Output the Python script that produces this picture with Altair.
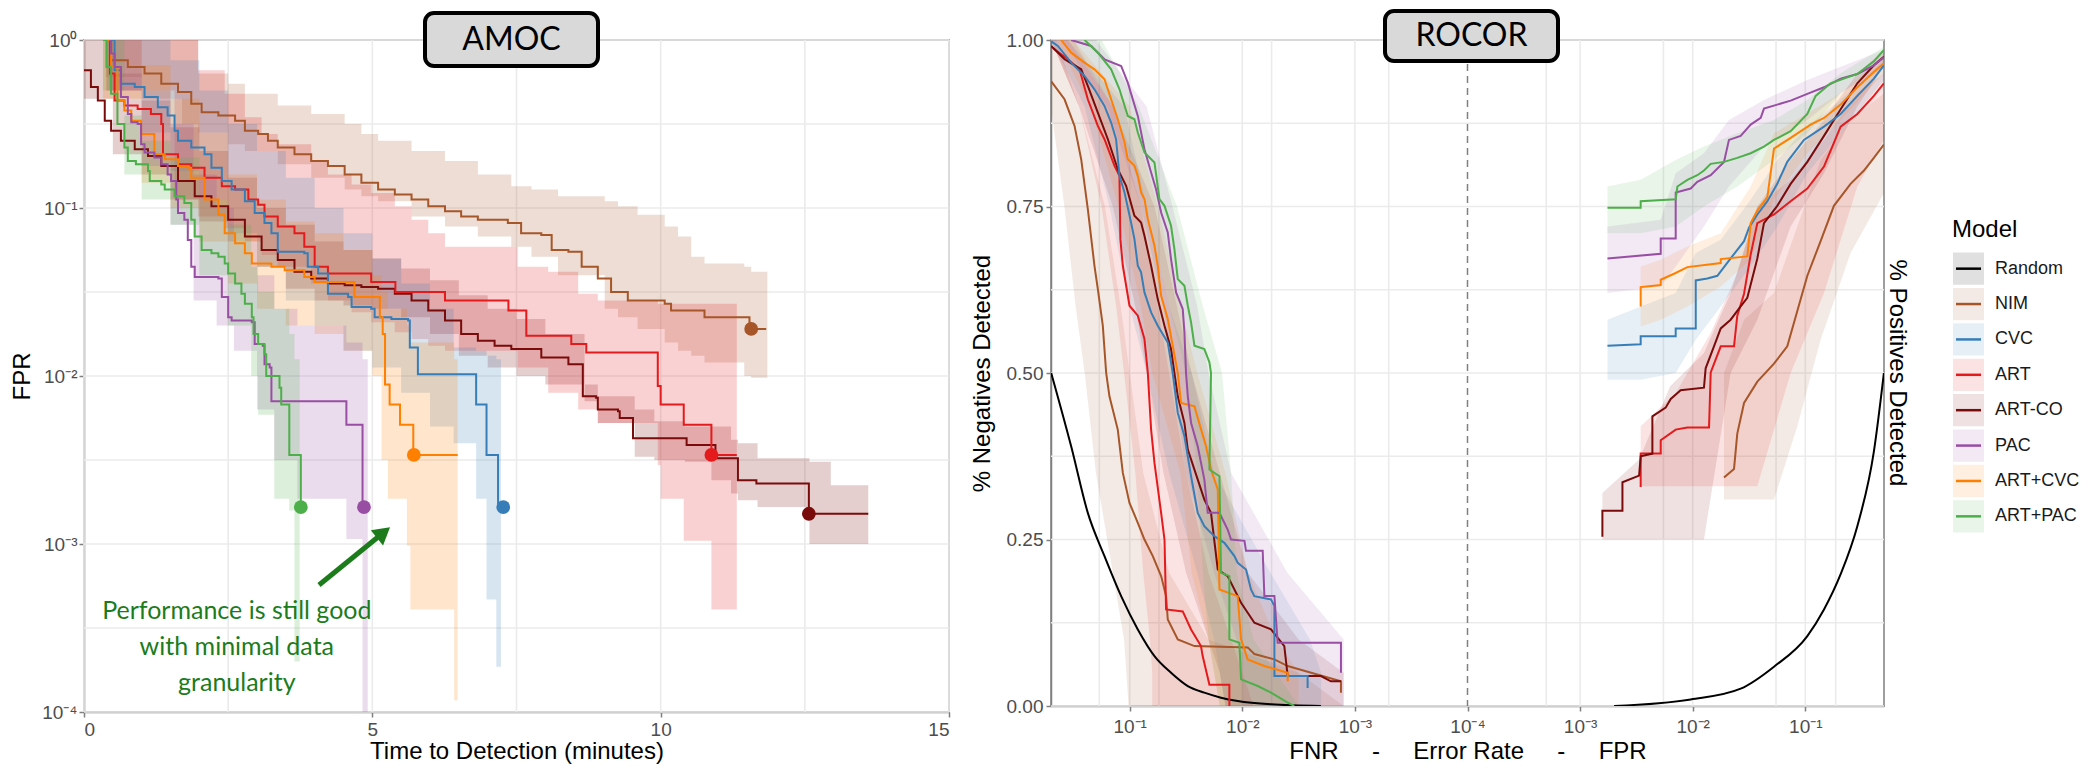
import altair as alt
import pandas as pd

MODELS = ["Random", "NIM", "CVC", "ART", "ART-CO", "PAC", "ART+CVC", "ART+PAC"]
COLORS = ["#000000", "#A65628", "#377EB8", "#E41A1C", "#7A0B0B", "#984EA3", "#FF7F00", "#4DAF4A"]
GREEN = "#1C7C1C"

# ------------------------------------------------------------------
# AMOC panel: time to detection (min) vs log10(FPR)  (step curves)
# ------------------------------------------------------------------
NIM_T = [0.38, 0.47, 0.76, 1.05, 1.34, 1.63, 1.86, 2.04, 2.33, 2.62, 2.79, 3.02, 3.19, 3.36, 3.65, 3.94, 4.23, 4.52, 4.81, 5.10,
         5.39, 5.68, 5.97, 6.26, 6.54, 6.83, 7.35, 7.58, 7.93, 8.11, 8.40, 8.63, 8.91, 9.14, 9.43, 10.07, 10.18, 10.76, 11.54, 11.83]
NIM_L = [0.0, -0.12, -0.16, -0.2, -0.26, -0.31, -0.38, -0.43, -0.45, -0.48, -0.54, -0.56, -0.6, -0.64, -0.68, -0.72, -0.75, -0.8, -0.85, -0.89,
         -0.92, -0.95, -0.99, -1.02, -1.05, -1.07, -1.09, -1.15, -1.16, -1.25, -1.26, -1.35, -1.42, -1.5, -1.55, -1.57, -1.61, -1.65, -1.72, -1.72]
NIM_BT = [0.38, 1.0, 1.7, 1.98, 2.5, 2.79, 3.36, 3.94, 4.52, 4.81, 5.1, 5.68, 6.26, 6.83, 7.41, 7.76, 8.22, 9.03, 9.26, 9.6,
          10.07, 10.3, 10.53, 10.76, 11.45, 11.57, 11.85]
NIM_HI = [0, 0, 0, -0.2, -0.26, -0.32, -0.39, -0.44, -0.5, -0.56, -0.6, -0.66, -0.72, -0.8, -0.87, -0.89, -0.93, -0.96, -0.99, -1.04,
          -1.11, -1.17, -1.29, -1.33, -1.35, -1.38, -1.39]
NIM_LO = [-0.22, -0.35, -0.5, -0.55, -0.62, -0.66, -0.74, -0.82, -0.89, -0.93, -0.96, -1.05, -1.11, -1.17, -1.23, -1.29, -1.4, -1.6, -1.65, -1.72,
          -1.8, -1.85, -1.88, -1.92, -2.0, -2.01, -2.01]

ARTCO_T = [0, 0.12, 0.24, 0.36, 0.47, 0.64, 0.88, 1.11, 1.34, 1.63, 1.92, 2.21, 2.5, 2.79, 3.08, 3.36, 3.65, 3.94, 4.23, 4.52,
           4.81, 5.1, 5.39, 5.68, 5.97, 6.26, 6.54, 6.83, 7.12, 7.41, 7.93, 8.4, 8.65, 8.88, 8.91, 9.26, 9.29, 9.52, 10.45, 10.95,
           11.34, 11.66, 12.57, 13.6]
ARTCO_L = [-0.18, -0.28, -0.36, -0.48, -0.54, -0.6, -0.65, -0.69, -0.75, -0.84, -0.93, -0.99, -1.07, -1.17, -1.25, -1.31, -1.38, -1.42, -1.45, -1.46,
           -1.47, -1.48, -1.51, -1.55, -1.61, -1.67, -1.75, -1.79, -1.82, -1.84, -1.89, -1.93, -2.12, -2.13, -2.2, -2.21, -2.25, -2.37, -2.41, -2.49,
           -2.62, -2.64, -2.82, -2.82]
ARTCO_BT = [0, 0.5, 1.0, 1.5, 2.0, 2.5, 3.0, 3.5, 4.0, 4.5, 5.0, 5.5, 6.0, 6.5, 7.0, 7.5, 8.0, 8.68, 8.91, 9.55,
            9.89, 10.42, 10.88, 11.22, 11.34, 11.68, 12.58, 12.95, 13.6]
ARTCO_HI = [0, -0.2, -0.36, -0.52, -0.66, -0.82, -1.0, -1.1, -1.2, -1.25, -1.3, -1.36, -1.43, -1.52, -1.6, -1.66, -1.75, -2.05, -2.12, -2.2,
            -2.27, -2.3, -2.3, -2.38, -2.4, -2.49, -2.51, -2.65, -2.65]
ARTCO_LO = [-0.35, -0.68, -0.8, -0.95, -1.08, -1.2, -1.35, -1.48, -1.55, -1.58, -1.6, -1.65, -1.75, -1.88, -1.95, -2.0, -2.05, -2.15, -2.28, -2.48,
            -2.5, -2.51, -2.62, -2.7, -2.74, -2.78, -3.0, -3.0, -3.0]

ART_T = [0.38, 0.45, 0.53, 0.70, 0.93, 1.16, 1.34, 1.37, 1.63, 1.86, 2.09, 2.39, 2.62, 2.85, 3.02, 3.13, 3.36, 3.65, 3.82, 4.0,
         4.23, 4.98, 5.4, 6.26, 7.36, 7.67, 8.45, 8.71, 9.95, 10.0, 10.4, 10.88, 11.32]
ART_L = [0.0, -0.2, -0.36, -0.39, -0.41, -0.44, -0.5, -0.68, -0.74, -0.76, -0.82, -0.87, -0.89, -0.95, -0.98, -1.05, -1.11, -1.15, -1.23, -1.35,
         -1.39, -1.44, -1.5, -1.55, -1.61, -1.76, -1.81, -1.86, -2.06, -2.17, -2.29, -2.47, -2.47]
ART_BT = [0.38, 1.57, 1.98, 2.44, 2.79, 3.08, 3.36, 3.94, 4.23, 4.64, 4.98, 5.39, 5.68, 5.97, 6.26, 7.52, 8.05, 8.57, 8.91, 9.95,
          10.0, 10.4, 10.88, 11.32]
ART_HI = [0, 0, -0.18, -0.32, -0.46, -0.56, -0.62, -0.72, -0.8, -0.86, -0.91, -0.99, -1.07, -1.15, -1.23, -1.35, -1.38, -1.51, -1.55, -1.57,
          -1.57, -1.57, -1.57, -1.65]
ART_LO = [-0.3, -0.95, -1.05, -1.12, -1.2, -1.28, -1.35, -1.45, -1.55, -1.62, -1.68, -1.74, -1.78, -1.82, -1.85, -1.95, -2.1, -2.2, -2.28, -2.53,
          -2.73, -2.98, -3.39, -3.39]

CVC_T = [0.4, 0.53, 0.64, 0.88, 1.05, 1.28, 1.45, 1.57, 1.63, 1.86, 2.09, 2.21, 2.39, 2.56, 2.79, 2.96, 3.13, 3.25, 3.36, 3.82,
         3.88, 4.06, 4.23, 4.58, 4.64, 4.98, 5.04, 5.33, 5.62, 5.65, 5.79, 6.8, 6.98, 7.18, 7.27]
CVC_L = [0.0, -0.18, -0.26, -0.28, -0.34, -0.4, -0.45, -0.54, -0.6, -0.64, -0.68, -0.76, -0.84, -0.89, -0.96, -1.03, -1.09, -1.15, -1.26, -1.27,
         -1.35, -1.39, -1.51, -1.53, -1.59, -1.6, -1.65, -1.66, -1.67, -1.83, -1.99, -2.17, -2.47, -2.78, -2.78]
CVC_BT = [0.4, 1.0, 1.5, 2.0, 2.5, 3.0, 3.5, 4.0, 4.5, 5.0, 5.5, 6.0, 6.41, 6.8, 6.98, 7.15, 7.23]
CVC_HI = [0, 0, -0.12, -0.3, -0.5, -0.66, -0.82, -1.0, -1.15, -1.3, -1.45, -1.6, -1.83, -1.85, -1.88, -1.9, -1.9]
CVC_LO = [-0.3, -0.55, -0.78, -0.95, -1.15, -1.35, -1.55, -1.7, -1.85, -1.95, -2.1, -2.3, -2.4, -2.73, -3.33, -3.73, -4.0]

AC_T = [0.33, 0.47, 0.58, 0.70, 0.82, 0.99, 1.22, 1.4, 1.63, 1.8, 1.86, 2.09, 2.33, 2.44, 2.62, 2.79, 2.91, 3.25, 3.48, 3.82,
        4.0, 4.69, 5.13, 5.18, 5.22, 5.3, 5.48, 5.71, 6.48]
AC_L = [0.0, -0.16, -0.36, -0.42, -0.48, -0.56, -0.68, -0.71, -0.75, -0.76, -0.82, -0.95, -1.04, -1.15, -1.21, -1.27, -1.33, -1.35, -1.37, -1.41,
        -1.44, -1.53, -1.65, -1.75, -2.05, -2.17, -2.29, -2.47, -2.47]
AC_BT = [0.33, 1.0, 1.5, 2.0, 2.5, 3.0, 3.5, 4.0, 4.5, 5.0, 5.16, 5.27, 5.6, 5.66, 6.42, 6.48]
AC_HI = [0, -0.15, -0.35, -0.55, -0.8, -0.95, -1.08, -1.15, -1.25, -1.4, -1.5, -1.6, -1.7, -1.8, -1.9, -1.9]
AC_LO = [-0.35, -0.85, -1.0, -1.2, -1.45, -1.6, -1.7, -1.75, -1.85, -2.0, -2.5, -2.73, -3.01, -3.39, -3.93, -3.93]

PAC_T = [0.44, 0.47, 0.53, 0.64, 0.76, 0.82, 0.93, 0.99, 1.05, 1.22, 1.34, 1.45, 1.51, 1.6, 1.63, 1.74, 1.8, 1.86, 1.92, 2.33,
         2.39, 2.5, 2.56, 2.91, 2.96, 3.1, 3.13, 3.22, 3.25, 4.55, 4.83, 4.86]
PAC_L = [0.0, -0.08, -0.16, -0.34, -0.44, -0.49, -0.5, -0.62, -0.67, -0.7, -0.74, -0.8, -0.84, -0.95, -1.03, -1.07, -1.19, -1.35, -1.41, -1.42,
         -1.53, -1.65, -1.67, -1.68, -1.81, -1.82, -1.93, -1.95, -2.15, -2.29, -2.78, -2.78]
PAC_BT = [0.44, 1.0, 1.5, 1.9, 2.3, 2.6, 3.0, 3.3, 3.7, 4.55, 4.83, 4.92]
PAC_HI = [0, -0.3, -0.5, -0.8, -1.0, -1.2, -1.4, -1.6, -1.7, -1.8, -1.9, -1.9]
PAC_LO = [-0.3, -0.75, -1.1, -1.55, -1.7, -1.85, -2.2, -2.5, -2.73, -2.97, -4.0, -4.0]

AP_T = [0.33, 0.39, 0.47, 0.58, 0.70, 0.76, 0.9, 1.11, 1.14, 1.34, 1.4, 1.57, 1.74, 1.86, 1.92, 2.04, 2.21, 2.33, 2.44, 2.5,
        2.62, 2.73, 2.79, 2.91, 2.94, 3.02, 3.13, 3.16, 3.39, 3.42, 3.56, 3.76]
AP_L = [0.0, -0.16, -0.32, -0.5, -0.64, -0.72, -0.74, -0.78, -0.84, -0.86, -0.89, -0.93, -0.97, -1.07, -1.17, -1.25, -1.27, -1.29, -1.33, -1.39,
        -1.45, -1.51, -1.57, -1.65, -1.75, -1.81, -1.87, -2.0, -2.07, -2.17, -2.47, -2.78]
AP_BT = [0.33, 0.7, 1.0, 1.5, 2.0, 2.5, 2.9, 3.02, 3.3, 3.56, 3.65, 3.74]
AP_HI = [0, -0.45, -0.6, -0.7, -0.95, -1.1, -1.35, -1.5, -1.6, -1.75, -1.9, -1.9]
AP_LO = [-0.3, -0.8, -0.95, -1.1, -1.4, -1.7, -2.0, -2.23, -2.73, -2.8, -3.7, -3.7]

DOT_MODEL = ["NIM", "CVC", "ART", "ART-CO", "PAC", "ART+CVC", "ART+PAC"]
DOT_T = [11.57, 7.27, 10.88, 12.57, 4.855, 5.72, 3.76]
DOT_L = [-1.72, -2.78, -2.47, -2.82, -2.78, -2.47, -2.78]

ANNOT_TEXT = ["Performance is still good", "with minimal data", "granularity"]
ANNOT_T = [2.65, 2.65, 2.65]
ANNOT_L = [-3.40, -3.615, -3.83]
ARROW_T = [4.075]
ARROW_L = [-3.244]
ARROW_T2 = [5.11]
ARROW_L2 = [-2.955]
HEAD_T = [5.193]
HEAD_L = [-2.932]

AMOC_X_GRID = [0, 2.5, 5, 7.5, 10, 12.5, 15]
AMOC_Y_GRID = [-4, -3.5, -3, -2.5, -2, -1.5, -1, -0.5, 0]

# ------------------------------------------------------------------
# ROCOR panel: left half = log10(FNR) vs % negatives, right half = log10(FPR) vs % positives
# ------------------------------------------------------------------
NIM_FNR_LG = [-0.303, -0.421, -0.51, -0.569, -0.628, -0.687, -0.717, -0.761, -0.791, -0.82, -0.894, -0.939, -0.998, -1.072, -1.131, -1.205,
              -1.279, -1.323, -1.338, -1.427, -1.575, -2.048, -2.107, -2.285, -2.403, -2.876, -2.876]
NIM_FNR_Y = [0.938, 0.911, 0.871, 0.821, 0.746, 0.661, 0.626, 0.571, 0.5, 0.465, 0.415, 0.35, 0.305, 0.275, 0.25, 0.225,
             0.195, 0.165, 0.13, 0.1, 0.09, 0.088, 0.078, 0.07, 0.06, 0.037, 0.02]
ART_FNR_LG = [-0.318, -0.451, -0.554, -0.628, -0.717, -0.776, -0.865, -0.909, -0.917, -0.939, -0.998, -1.072, -1.131, -1.161, -1.19, -1.22,
              -1.279, -1.309, -1.323, -1.471, -1.545, -1.633, -1.648, -1.708, -1.885, -1.885]
ART_FNR_Y = [0.988, 0.971, 0.956, 0.911, 0.871, 0.851, 0.811, 0.796, 0.701, 0.661, 0.601, 0.586, 0.551, 0.5, 0.415, 0.365,
             0.29, 0.25, 0.145, 0.142, 0.115, 0.09, 0.075, 0.032, 0.032, 0.0]
ARTCO_FNR_LG = [-0.303, -0.421, -0.569, -0.628, -0.717, -0.806, -0.894, -0.968, -1.042, -1.101, -1.131, -1.19, -1.249, -1.309, -1.367, -1.397,
                -1.427, -1.486, -1.516, -1.575, -1.663, -1.722, -1.782, -1.87, -1.989, -2.107, -2.255, -2.373, -2.403, -2.698, -2.787, -2.876]
ARTCO_FNR_Y = [0.991, 0.971, 0.956, 0.931, 0.891, 0.851, 0.806, 0.781, 0.736, 0.726, 0.706, 0.661, 0.611, 0.571, 0.536, 0.5,
               0.465, 0.425, 0.385, 0.355, 0.31, 0.29, 0.205, 0.195, 0.155, 0.125, 0.115, 0.09, 0.045, 0.045, 0.037, 0.037]
CVC_FNR_LG = [-0.303, -0.362, -0.48, -0.599, -0.687, -0.776, -0.835, -0.879, -0.909, -0.954, -1.012, -1.042, -1.072, -1.101, -1.131, -1.19,
              -1.249, -1.338, -1.382, -1.427, -1.486, -1.545, -1.604, -1.663, -1.752, -1.841, -1.93, -1.959, -2.033, -2.077, -2.107, -2.255,
              -2.285, -2.285, -2.58, -2.58]
CVC_FNR_Y = [0.998, 0.991, 0.966, 0.946, 0.926, 0.901, 0.876, 0.851, 0.796, 0.771, 0.726, 0.701, 0.661, 0.651, 0.621, 0.591,
             0.571, 0.546, 0.5, 0.44, 0.405, 0.345, 0.29, 0.27, 0.255, 0.245, 0.225, 0.215, 0.205, 0.175, 0.165, 0.16,
             0.15, 0.045, 0.045, 0.027]
AC_FNR_LG = [-0.391, -0.48, -0.599, -0.687, -0.776, -0.835, -0.894, -0.954, -0.983, -1.042, -1.072, -1.101, -1.131, -1.161, -1.22, -1.249,
             -1.279, -1.338, -1.382, -1.427, -1.456, -1.575, -1.634, -1.678, -1.722, -1.782, -1.797, -1.959, -1.989, -2.048, -2.196, -2.403, -2.403]
AC_FNR_Y = [1.0, 0.981, 0.966, 0.956, 0.941, 0.911, 0.881, 0.846, 0.821, 0.811, 0.796, 0.771, 0.761, 0.731, 0.691, 0.661,
            0.616, 0.581, 0.541, 0.5, 0.455, 0.45, 0.415, 0.39, 0.355, 0.325, 0.175, 0.165, 0.1, 0.07, 0.06, 0.05, 0.037]
PAC_FNR_LG = [-0.48, -0.658, -0.776, -0.924, -0.983, -1.027, -1.072, -1.131, -1.19, -1.234, -1.279, -1.338, -1.367, -1.412, -1.471, -1.486,
              -1.5, -1.516, -1.545, -1.604, -1.663, -1.693, -1.797, -1.87, -1.9, -2.019, -2.033, -2.181, -2.196, -2.285, -2.314, -2.876, -2.876]
PAC_FNR_Y = [1.0, 0.991, 0.971, 0.961, 0.936, 0.911, 0.886, 0.836, 0.801, 0.776, 0.741, 0.711, 0.671, 0.621, 0.596, 0.561,
             0.5, 0.465, 0.425, 0.39, 0.34, 0.29, 0.29, 0.265, 0.25, 0.248, 0.233, 0.233, 0.165, 0.165, 0.095, 0.095, 0.05]
AP_FNR_LG = [-0.599, -0.717, -0.835, -0.909, -0.983, -1.042, -1.072, -1.131, -1.22, -1.264, -1.309, -1.367, -1.397, -1.427, -1.486, -1.516,
             -1.545, -1.575, -1.663, -1.708, -1.722, -1.708, -1.797, -1.811, -1.885, -1.885, -1.974, -1.989, -2.137, -2.255, -2.403, -2.462]
AP_FNR_Y = [1.0, 0.981, 0.956, 0.926, 0.886, 0.881, 0.861, 0.831, 0.816, 0.761, 0.751, 0.721, 0.686, 0.641, 0.631, 0.601,
            0.576, 0.541, 0.536, 0.516, 0.5, 0.355, 0.345, 0.2, 0.195, 0.1, 0.095, 0.04, 0.03, 0.02, 0.005, 0.0]
RND_FNR_LG = [-0.303, -0.48, -0.628, -0.776, -0.924, -1.072, -1.22, -1.367, -1.516, -1.663, -1.811, -1.959, -2.255, -2.698]
RND_FNR_Y = [0.5, 0.39, 0.29, 0.225, 0.165, 0.115, 0.075, 0.05, 0.03, 0.02, 0.0125, 0.0075, 0.0025, 0.0]

AP_FPR_LG = [-2.757, -2.462, -2.462, -2.151, -2.136, -2.047, -1.959, -1.9, -1.84, -1.722, -1.604, -1.485, -1.367, -1.278, -1.13, -0.982,
             -0.908, -0.775, -0.657, -0.538, -0.391, -0.302]
AP_FPR_Y = [0.748, 0.748, 0.758, 0.761, 0.78, 0.79, 0.797, 0.804, 0.814, 0.817, 0.823, 0.83, 0.84, 0.85, 0.863, 0.889,
            0.916, 0.935, 0.942, 0.949, 0.968, 0.985]
PAC_FPR_LG = [-2.757, -2.284, -2.284, -2.151, -2.151, -2.018, -1.959, -1.84, -1.722, -1.678, -1.574, -1.485, -1.396, -1.367, -1.249, -1.13,
              -0.982, -0.834, -0.686, -0.538, -0.391, -0.302]
PAC_FPR_Y = [0.672, 0.679, 0.702, 0.702, 0.771, 0.777, 0.787, 0.797, 0.817, 0.85, 0.856, 0.873, 0.883, 0.897, 0.903, 0.909,
             0.919, 0.929, 0.942, 0.949, 0.962, 0.974]
AC_FPR_LG = [-2.462, -2.462, -2.284, -2.284, -2.166, -2.047, -1.751, -1.751, -1.515, -1.485, -1.426, -1.337, -1.278, -1.13, -0.953, -0.834,
             -0.686, -0.538, -0.391, -0.302]
AC_FPR_Y = [0.6, 0.629, 0.632, 0.64, 0.649, 0.659, 0.665, 0.671, 0.675, 0.725, 0.744, 0.764, 0.837, 0.853, 0.873, 0.883,
            0.903, 0.929, 0.952, 0.965]
CVC_FPR_LG = [-2.757, -2.462, -2.462, -2.151, -2.151, -1.973, -1.973, -1.87, -1.781, -1.663, -1.604, -1.544, -1.5, -1.426, -1.337, -1.249,
              -1.16, -1.012, -0.834, -0.686, -0.538, -0.391, -0.302]
CVC_FPR_Y = [0.541, 0.543, 0.555, 0.555, 0.567, 0.567, 0.639, 0.642, 0.646, 0.672, 0.685, 0.698, 0.718, 0.738, 0.758, 0.784,
             0.817, 0.85, 0.87, 0.889, 0.916, 0.942, 0.962]
ARTCO_FPR_LG = [-2.802, -2.802, -2.624, -2.624, -2.476, -2.462, -2.358, -2.358, -2.24, -2.195, -2.107, -1.9, -1.885, -1.811, -1.751, -1.663,
                -1.574, -1.515, -1.426, -1.367, -1.249, -1.13, -0.982, -0.834, -0.686, -0.538, -0.391, -0.302]
ARTCO_FPR_Y = [0.254, 0.293, 0.293, 0.336, 0.346, 0.375, 0.379, 0.435, 0.448, 0.461, 0.474, 0.478, 0.507, 0.54, 0.567, 0.58,
               0.6, 0.613, 0.672, 0.725, 0.751, 0.784, 0.817, 0.856, 0.896, 0.935, 0.962, 0.975]
ART_FPR_LG = [-2.462, -2.462, -2.284, -2.284, -2.151, -2.047, -1.855, -1.84, -1.751, -1.633, -1.604, -1.544, -1.485, -1.426, -1.278, -1.13,
              -0.982, -0.834, -0.686, -0.538, -0.391, -0.302]
ART_FPR_Y = [0.329, 0.379, 0.379, 0.399, 0.415, 0.418, 0.418, 0.501, 0.54, 0.54, 0.586, 0.619, 0.678, 0.725, 0.738, 0.758,
             0.777, 0.81, 0.87, 0.889, 0.916, 0.935]
NIM_FPR_LG = [-1.722, -1.633, -1.604, -1.544, -1.426, -1.278, -1.16, -1.071, -0.982, -0.864, -0.746, -0.598, -0.479, -0.391, -0.302]
NIM_FPR_Y = [0.343, 0.356, 0.409, 0.455, 0.487, 0.514, 0.54, 0.593, 0.646, 0.698, 0.751, 0.784, 0.804, 0.823, 0.843]
RND_FPR_LG = [-2.698, -2.018, -1.574, -1.278, -0.982, -0.834, -0.686, -0.538, -0.391, -0.302]
RND_FPR_Y = [0.0, 0.0099, 0.026, 0.059, 0.105, 0.145, 0.198, 0.27, 0.382, 0.5]

# confidence bands, FNR side (horizontal bands: left / right edge in log10 FNR at each level)
BAND_Y = [1.0, 0.9, 0.75, 0.6, 0.5, 0.35, 0.2, 0.1, 0.05, 0.0]
NIM_FNR_BL = [-0.3, -0.3, -0.42, -0.52, -0.6, -0.7, -0.85, -0.95, -0.97, -0.99]
NIM_FNR_BR = [-0.35, -0.55, -0.78, -0.92, -1.0, -1.12, -1.35, -1.7, -2.5, -2.9]
ART_FNR_BL = [-0.3, -0.55, -0.75, -0.88, -0.95, -1.05, -1.12, -1.18, -1.2, -1.2]
ART_FNR_BR = [-0.5, -0.85, -1.1, -1.25, -1.35, -1.5, -1.7, -1.9, -2.0, -2.1]
ARTCO_FNR_BL = [-0.3, -0.55, -0.85, -1.05, -1.15, -1.3, -1.5, -1.7, -1.8, -1.85]
ARTCO_FNR_BR = [-0.45, -0.85, -1.22, -1.42, -1.55, -1.8, -2.05, -2.5, -2.9, -2.9]
CVC_FNR_BL = [-0.3, -0.6, -0.82, -1.0, -1.15, -1.35, -1.6, -1.75, -1.8, -1.85]
CVC_FNR_BR = [-0.45, -0.95, -1.15, -1.35, -1.55, -1.75, -2.25, -2.6, -2.7, -2.7]
AC_FNR_BL = [-0.35, -0.65, -0.9, -1.1, -1.2, -1.45, -1.55, -1.7, -1.75, -1.8]
AC_FNR_BR = [-0.5, -1.0, -1.25, -1.45, -1.6, -1.85, -2.05, -2.3, -2.5, -2.5]
PAC_FNR_BL = [-0.4, -0.8, -1.1, -1.3, -1.38, -1.5, -1.75, -1.95, -2.0, -2.0]
PAC_FNR_BR = [-0.7, -1.15, -1.38, -1.6, -1.7, -1.9, -2.4, -2.9, -2.9, -2.9]
AP_FNR_BL = [-0.45, -0.85, -1.15, -1.35, -1.5, -1.6, -1.65, -1.7, -1.75, -1.8]
AP_FNR_BR = [-0.75, -1.08, -1.42, -1.65, -1.82, -1.9, -1.95, -2.1, -2.3, -2.5]

# confidence bands, FPR side (vertical bands)
AP_FPR_BX = [-2.757, -2.462, -2.151, -1.9, -1.604, -1.278, -0.982, -0.686, -0.302]
AP_FPR_BLO = [0.71, 0.71, 0.72, 0.75, 0.78, 0.82, 0.86, 0.92, 0.97]
AP_FPR_BHI = [0.78, 0.79, 0.82, 0.84, 0.86, 0.88, 0.91, 0.95, 0.99]
PAC_FPR_BX = [-2.757, -2.284, -2.151, -1.9, -1.678, -1.367, -0.982, -0.686, -0.302]
PAC_FPR_BLO = [0.62, 0.63, 0.66, 0.72, 0.78, 0.84, 0.88, 0.92, 0.96]
PAC_FPR_BHI = [0.72, 0.73, 0.8, 0.83, 0.88, 0.91, 0.94, 0.96, 0.985]
AC_FPR_BX = [-2.462, -2.284, -2.047, -1.751, -1.485, -1.278, -0.982, -0.686, -0.302]
AC_FPR_BLO = [0.57, 0.58, 0.6, 0.63, 0.67, 0.76, 0.83, 0.88, 0.95]
AC_FPR_BHI = [0.66, 0.67, 0.69, 0.71, 0.78, 0.86, 0.89, 0.92, 0.975]
CVC_FPR_BX = [-2.757, -2.462, -2.151, -1.973, -1.751, -1.485, -1.249, -0.982, -0.686, -0.302]
CVC_FPR_BLO = [0.49, 0.49, 0.5, 0.55, 0.6, 0.66, 0.72, 0.8, 0.86, 0.94]
CVC_FPR_BHI = [0.58, 0.6, 0.62, 0.68, 0.7, 0.76, 0.82, 0.87, 0.91, 0.97]
ARTCO_FPR_BX = [-2.802, -2.476, -2.2, -1.9, -1.663, -1.426, -1.13, -0.834, -0.538, -0.302]
ARTCO_FPR_BLO = [0.25, 0.25, 0.25, 0.25, 0.5, 0.58, 0.72, 0.8, 0.9, 0.96]
ARTCO_FPR_BHI = [0.32, 0.37, 0.48, 0.53, 0.62, 0.75, 0.82, 0.88, 0.95, 0.985]
ART_FPR_BX = [-2.462, -2.151, -1.84, -1.604, -1.426, -1.13, -0.834, -0.538, -0.302]
ART_FPR_BLO = [0.33, 0.33, 0.33, 0.33, 0.33, 0.5, 0.62, 0.78, 0.85]
ART_FPR_BHI = [0.42, 0.47, 0.56, 0.65, 0.75, 0.79, 0.85, 0.92, 0.95]
NIM_FPR_BX = [-1.722, -1.544, -1.278, -1.071, -0.864, -0.598, -0.302]
NIM_FPR_BLO = [0.31, 0.31, 0.31, 0.42, 0.55, 0.68, 0.77]
NIM_FPR_BHI = [0.5, 0.58, 0.62, 0.72, 0.82, 0.88, 0.92]

ROC_X_GRID = [-3.27, -3, -2.74, -2, -1.74, -1, -0.7, 0.7, 1, 1.74, 2, 2.74, 3, 3.27]
ROC_Y_GRID = [0, 0.125, 0.25, 0.375, 0.5, 0.625, 0.75, 0.875, 1]

# ------------------------------------------------------------------
# tables
# ------------------------------------------------------------------
def steps(model, t, lg):
    return pd.DataFrame({"model": model, "t": t, "lg": lg, "i": list(range(len(t)))})


def bandA(model, t, lo, hi):
    return pd.DataFrame({"model": model, "t": t, "lo": lo, "hi": hi})


amoc_lines = pd.concat([
    steps("NIM", NIM_T, NIM_L), steps("ART-CO", ARTCO_T, ARTCO_L), steps("ART", ART_T, ART_L),
    steps("CVC", CVC_T, CVC_L), steps("ART+CVC", AC_T, AC_L), steps("PAC", PAC_T, PAC_L),
    steps("ART+PAC", AP_T, AP_L)], ignore_index=True)
amoc_bands = pd.concat([
    bandA("NIM", NIM_BT, NIM_LO, NIM_HI), bandA("ART-CO", ARTCO_BT, ARTCO_LO, ARTCO_HI),
    bandA("ART", ART_BT, ART_LO, ART_HI), bandA("CVC", CVC_BT, CVC_LO, CVC_HI),
    bandA("ART+CVC", AC_BT, AC_LO, AC_HI), bandA("PAC", PAC_BT, PAC_LO, PAC_HI),
    bandA("ART+PAC", AP_BT, AP_LO, AP_HI)], ignore_index=True)
amoc_dots = pd.DataFrame({"model": DOT_MODEL, "t": DOT_T, "lg": DOT_L})


def fnr_line(model, lg, y):
    return pd.DataFrame({"model": model, "grp": model + "-fnr", "u": [-(v + 4) for v in lg], "y": y,
                         "i": list(range(len(lg)))})


def fpr_line(model, lg, y):
    return pd.DataFrame({"model": model, "grp": model + "-fpr", "u": [v + 4 for v in lg], "y": y,
                         "i": list(range(len(lg)))})


def fnr_band(model, bl, br):
    return pd.DataFrame({"model": model, "y": BAND_Y, "uL": [-(v + 4) for v in bl], "uR": [-(v + 4) for v in br]})


def fpr_band(model, bx, lo, hi):
    return pd.DataFrame({"model": model, "u": [v + 4 for v in bx], "lo": lo, "hi": hi})


roc_lines = pd.concat([
    fnr_line("NIM", NIM_FNR_LG, NIM_FNR_Y), fnr_line("ART", ART_FNR_LG, ART_FNR_Y),
    fnr_line("ART-CO", ARTCO_FNR_LG, ARTCO_FNR_Y), fnr_line("CVC", CVC_FNR_LG, CVC_FNR_Y),
    fnr_line("ART+CVC", AC_FNR_LG, AC_FNR_Y), fnr_line("PAC", PAC_FNR_LG, PAC_FNR_Y),
    fnr_line("ART+PAC", AP_FNR_LG, AP_FNR_Y),
    fpr_line("NIM", NIM_FPR_LG, NIM_FPR_Y), fpr_line("ART", ART_FPR_LG, ART_FPR_Y),
    fpr_line("ART-CO", ARTCO_FPR_LG, ARTCO_FPR_Y), fpr_line("CVC", CVC_FPR_LG, CVC_FPR_Y),
    fpr_line("ART+CVC", AC_FPR_LG, AC_FPR_Y), fpr_line("PAC", PAC_FPR_LG, PAC_FPR_Y),
    fpr_line("ART+PAC", AP_FPR_LG, AP_FPR_Y)], ignore_index=True)
roc_random = pd.concat([fnr_line("Random", RND_FNR_LG, RND_FNR_Y), fpr_line("Random", RND_FPR_LG, RND_FPR_Y)],
                       ignore_index=True)
roc_bands_l = pd.concat([
    fnr_band("NIM", NIM_FNR_BL, NIM_FNR_BR), fnr_band("ART", ART_FNR_BL, ART_FNR_BR),
    fnr_band("ART-CO", ARTCO_FNR_BL, ARTCO_FNR_BR), fnr_band("CVC", CVC_FNR_BL, CVC_FNR_BR),
    fnr_band("ART+CVC", AC_FNR_BL, AC_FNR_BR), fnr_band("PAC", PAC_FNR_BL, PAC_FNR_BR),
    fnr_band("ART+PAC", AP_FNR_BL, AP_FNR_BR)], ignore_index=True)
roc_bands_r = pd.concat([
    fpr_band("NIM", NIM_FPR_BX, NIM_FPR_BLO, NIM_FPR_BHI), fpr_band("ART", ART_FPR_BX, ART_FPR_BLO, ART_FPR_BHI),
    fpr_band("ART-CO", ARTCO_FPR_BX, ARTCO_FPR_BLO, ARTCO_FPR_BHI), fpr_band("CVC", CVC_FPR_BX, CVC_FPR_BLO, CVC_FPR_BHI),
    fpr_band("ART+CVC", AC_FPR_BX, AC_FPR_BLO, AC_FPR_BHI), fpr_band("PAC", PAC_FPR_BX, PAC_FPR_BLO, PAC_FPR_BHI),
    fpr_band("ART+PAC", AP_FPR_BX, AP_FPR_BLO, AP_FPR_BHI)], ignore_index=True)

# ------------------------------------------------------------------
# encodings
# ------------------------------------------------------------------
W_L, W_R, W_LEG = 865, 833, 95
H_L, H_R = 672, 666
FONT = "Liberation Sans"
color = alt.Color("model:N", scale=alt.Scale(domain=MODELS, range=COLORS), legend=None)

LBL_A = ("datum.value == 0 ? '10⁰' : datum.value == -1 ? '10⁻¹' : datum.value == -2 ? '10⁻²' : "
         "datum.value == -3 ? '10⁻³' : '10⁻⁴'")
LBL_R = ("datum.value == 0 ? '10⁻⁴' : abs(datum.value) == 1 ? '10⁻³' : abs(datum.value) == 2 ? '10⁻²' : '10⁻¹'")
NB = "\u00a0" * 5
XTITLE_R = "FNR" + NB + "-" + NB + "Error Rate" + NB + "-" + NB + "FPR"

axA_x = alt.Axis(values=[0, 5, 10, 15], title="Time to Detection (minutes)", grid=False, labelPadding=3, titlePadding=0)
axA_y = alt.Axis(values=[-4, -3, -2, -1, 0], labelExpr=LBL_A, title="FPR", grid=False, labelPadding=2, titlePadding=7)
scA_x = alt.Scale(domain=[0, 15], nice=False, zero=False)
scA_y = alt.Scale(domain=[-4, 0], nice=False, zero=False)


def xA(f):
    return alt.X(f + ":Q", scale=scA_x, axis=axA_x)


def yA(f):
    return alt.Y(f + ":Q", scale=scA_y, axis=axA_y)


axR_x = alt.Axis(values=[-3, -2, -1, 0, 1, 2, 3], labelExpr=LBL_R, title=XTITLE_R, grid=False, labelPadding=6, titlePadding=3)
axR_y = alt.Axis(values=[0, 0.25, 0.5, 0.75, 1], format=".2f", title="% Negatives Detected", grid=False,
                 labelPadding=3, titlePadding=12)
scR_x = alt.Scale(domain=[-3.699, 3.699], nice=False, zero=False)
scR_y = alt.Scale(domain=[0, 1], nice=False, zero=False)


def xR(f):
    return alt.X(f + ":Q", scale=scR_x, axis=axR_x)


def yR(f):
    return alt.Y(f + ":Q", scale=scR_y, axis=axR_y)


# ------------------------------------------------------------------
# AMOC panel
# ------------------------------------------------------------------
gA_v = alt.Chart(pd.DataFrame({"t": AMOC_X_GRID})).mark_rule(color="#EBEBEB", strokeWidth=1.6).encode(x=xA("t"))
gA_h = alt.Chart(pd.DataFrame({"lg": AMOC_Y_GRID})).mark_rule(color="#EBEBEB", strokeWidth=1.6).encode(y=yA("lg"))
bandsA = alt.Chart(amoc_bands).mark_area(interpolate="step-after", opacity=0.2, clip=True).encode(
    x=xA("t"), y=yA("lo"), y2="hi:Q", color=color)
linesA = alt.Chart(amoc_lines).mark_line(interpolate="step-after", strokeWidth=2, clip=True).encode(
    x=xA("t"), y=yA("lg"), color=color, order="i:Q")
dotsA = alt.Chart(amoc_dots).mark_circle(size=190, opacity=1).encode(x=xA("t"), y=yA("lg"), color=color)
annot = alt.Chart(pd.DataFrame({"t": ANNOT_T, "lg": ANNOT_L, "txt": ANNOT_TEXT})).mark_text(
    font="Lato", fontSize=25, color=GREEN, align="center", baseline="middle").encode(x=xA("t"), y=yA("lg"), text="txt:N")
arrow = alt.Chart(pd.DataFrame({"t": ARROW_T, "lg": ARROW_L, "t2": ARROW_T2, "lg2": ARROW_L2})).mark_rule(
    color=GREEN, strokeWidth=5).encode(x=xA("t"), y=yA("lg"), x2="t2:Q", y2="lg2:Q")
head = alt.Chart(pd.DataFrame({"t": HEAD_T, "lg": HEAD_L})).mark_point(
    shape="triangle-up", filled=True, size=380, angle=51, color=GREEN, opacity=1).encode(x=xA("t"), y=yA("lg"))
boxA = alt.Chart(pd.DataFrame({"label": ["AMOC"]})).mark_rect(
    cornerRadius=9, fill="#D9D9D9", stroke="black", strokeWidth=4).encode(
    x=alt.value(341), x2=alt.value(514), y=alt.value(-27), y2=alt.value(26))
boxA_t = alt.Chart(pd.DataFrame({"label": ["AMOC"]})).mark_text(
    font="Lato", fontSize=32, color="black", baseline="middle").encode(
    x=alt.value(427.5), y=alt.value(0), text="label:N")

amoc = alt.layer(gA_v, gA_h, bandsA, linesA, dotsA, annot, arrow, head, boxA, boxA_t).properties(width=W_L, height=H_L)

# ------------------------------------------------------------------
# ROCOR panel
# ------------------------------------------------------------------
gR_v = alt.Chart(pd.DataFrame({"u": ROC_X_GRID})).mark_rule(color="#EBEBEB", strokeWidth=1.6).encode(x=xR("u"))
gR_h = alt.Chart(pd.DataFrame({"y": ROC_Y_GRID})).mark_rule(color="#EBEBEB", strokeWidth=1.6).encode(y=yR("y"))
dash = alt.Chart(pd.DataFrame({"u": [0]})).mark_rule(color="#808080", strokeWidth=1.5, strokeDash=[7, 5]).encode(x=xR("u"))
bandsL = alt.Chart(roc_bands_l).mark_area(orient="horizontal", opacity=0.12, clip=True).encode(
    y=yR("y"), x=xR("uL"), x2="uR:Q", color=color)
bandsR = alt.Chart(roc_bands_r).mark_area(opacity=0.12, clip=True).encode(
    x=xR("u"), y=yR("lo"), y2="hi:Q", color=color)
linesR = alt.Chart(roc_lines).mark_line(strokeWidth=2, clip=True).encode(
    x=xR("u"), y=yR("y"), color=color, detail="grp:N", order="i:Q")
randR = alt.Chart(roc_random).mark_line(strokeWidth=2, interpolate="monotone", clip=True).encode(
    x=xR("u"), y=yR("y"), color=color, detail="grp:N")
boxR = alt.Chart(pd.DataFrame({"label": ["ROCOR"]})).mark_rect(
    cornerRadius=9, fill="#D9D9D9", stroke="black", strokeWidth=4).encode(
    x=alt.value(334), x2=alt.value(507), y=alt.value(-29), y2=alt.value(21))
boxR_t = alt.Chart(pd.DataFrame({"label": ["ROCOR"]})).mark_text(
    font="Lato", fontSize=32, color="black", baseline="middle").encode(
    x=alt.value(420.5), y=alt.value(-4), text="label:N")
rtitle = alt.Chart(pd.DataFrame({"label": ["% Positives Detected"]})).mark_text(
    font=FONT, fontSize=24, angle=90, align="center", baseline="middle", color="black").encode(
    x=alt.value(W_R + 13), y=alt.value(H_R / 2), text="label:N")

rocor = alt.layer(gR_v, gR_h, dash, bandsL, bandsR, randR, linesR, boxR, boxR_t, rtitle).properties(width=W_R, height=H_R)

# ------------------------------------------------------------------
# legend panel (drawn from the model list)
# ------------------------------------------------------------------
leg_df = pd.DataFrame({"model": MODELS})
leg_scale = alt.Scale(domain=MODELS, range=[212.5, 492.5], paddingInner=0.086, paddingOuter=0)
leg_y = alt.Y("model:N", scale=leg_scale, axis=None, bandPosition=0.5)
leg_y_band = alt.Y("model:N", scale=leg_scale, axis=None)
leg_rect = alt.Chart(leg_df).mark_rect(opacity=0.12).encode(
    x=alt.value(-33), x2=alt.value(-2), y=leg_y_band, color=color)
leg_line = alt.Chart(leg_df).mark_rule(strokeWidth=2.5).encode(
    x=alt.value(-30), x2=alt.value(-5), y=leg_y, color=color)
leg_text = alt.Chart(leg_df).mark_text(font=FONT, fontSize=18, align="left", baseline="middle", color="#1A1A1A").encode(
    x=alt.value(9), y=leg_y, text="model:N")
leg_title = alt.Chart(pd.DataFrame({"label": ["Model"]})).mark_text(
    font=FONT, fontSize=24, align="left", baseline="middle", color="black").encode(
    x=alt.value(-34), y=alt.value(190), text="label:N")
legend = alt.layer(leg_rect, leg_line, leg_text, leg_title).properties(
    width=W_LEG, height=H_R, view=alt.ViewBackground(stroke="transparent"))

chart = alt.hconcat(amoc, rocor, legend, spacing=102, bounds="flush").properties(
    padding={"left": 1, "top": 0, "right": 0, "bottom": 0}
).configure(font=FONT).configure_axis(
    labelFont=FONT, labelFontSize=19, labelColor="#4D4D4D", titleFont=FONT, titleFontSize=24,
    titleFontWeight="normal", titleColor="black", tickColor="#7F7F7F", domainColor="#7F7F7F",
    tickSize=5, tickWidth=1.5, domainWidth=1.5
).configure_view(stroke="#7F7F7F", strokeWidth=1.5)

chart.save("out.html", embed_options={"renderer": "svg", "actions": False})
